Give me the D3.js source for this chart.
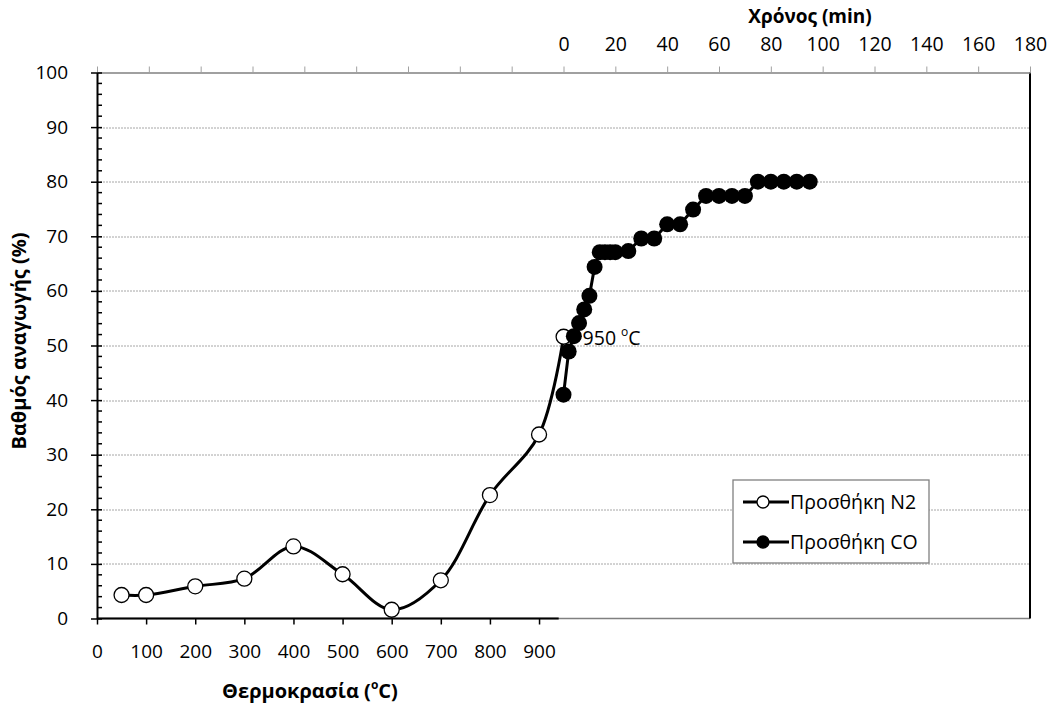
<!DOCTYPE html>
<html>
<head>
<meta charset="utf-8">
<script src="https://cdn.jsdelivr.net/npm/d3@7"></script>
<style>
  body { margin: 0; background: #fff; }
  text { font-family: "Open Sans", sans-serif; fill: #000; }
</style>
</head>
<body>
<div id="chart"></div>
<script>
// data
var tempN2 = [50, 100, 200, 300, 400, 500, 600, 700, 800, 900, 950];
var valN2 = [4.3, 4.3, 5.9, 7.3, 13.2, 8.1, 1.6, 7.0, 22.6, 33.7, 51.6];

var timeCO = [0, 2, 4, 6, 8, 10, 12, 14, 16, 18, 20, 25, 30, 35, 40, 45, 50, 55, 60, 65, 70, 75, 80, 85, 90, 95];
var valCO = [41.0, 48.9, 51.7, 54.1, 56.6, 59.1, 64.4, 67.1, 67.1, 67.1, 67.1, 67.3, 69.6, 69.6, 72.2, 72.2, 74.9, 77.4, 77.4, 77.4, 77.4, 80.0, 80.0, 80.0, 80.0, 80.0];

var tempTicks = [0, 100, 200, 300, 400, 500, 600, 700, 800, 900];
var timeTicks = d3.range(-180, 181, 20);
var yTicks = [0, 10, 20, 30, 40, 50, 60, 70, 80, 90, 100];

var svgWidth = 1052;
var svgHeight = 706;

var margin = { top: 72.5, right: 22, bottom: 87.5, left: 97 };
var width = svgWidth - margin.left - margin.right;
var height = svgHeight - margin.top - margin.bottom;

var svg = d3.select("#chart")
  .append("svg")
  .attr("width", svgWidth)
  .attr("height", svgHeight);

var g = svg.append("g")
  .attr("transform", `translate(${margin.left}, ${margin.top})`);

// scales
var yScale = d3.scaleLinear().domain([0, 100]).range([height, 0]);
var tempScale = d3.scaleLinear().domain([0, 950]).range([0, 466.6]);
var timeScale = d3.scaleLinear().domain([-180, 180]).range([0, width]);

// gridlines
g.selectAll(".grid")
  .data(yTicks.filter(d => d > 0 && d < 100))
  .enter()
  .append("line")
  .attr("x1", 0)
  .attr("x2", width)
  .attr("y1", d => Math.round(yScale(d)) + 0.5)
  .attr("y2", d => Math.round(yScale(d)) + 0.5)
  .attr("stroke", "#a6a6a6")
  .attr("stroke-dasharray", "2,1");

// bottom border (grey) and right border
g.append("line")
  .attr("x1", 0).attr("x2", width)
  .attr("y1", height).attr("y2", height)
  .attr("stroke", "#808080").attr("stroke-width", 1.5);
g.append("line")
  .attr("x1", width).attr("x2", width)
  .attr("y1", 0).attr("y2", height)
  .attr("stroke", "#000").attr("stroke-width", 2);

// top axis (time)
var topAxis = d3.axisTop(timeScale)
  .tickValues(timeTicks)
  .tickSize(6)
  .tickSizeOuter(0)
  .tickFormat(d => d >= 0 ? d : "");
var topG = g.append("g").call(topAxis);
topG.select(".domain").attr("stroke", "#808080").attr("stroke-width", 1.5);
topG.selectAll(".tick line").attr("stroke", "#a0a0a0");
topG.selectAll(".tick text")
  .attr("font-family", "Open Sans")
  .attr("font-size", 19.5)
  .attr("y", -22)
  .attr("dy", 0);

// bottom axis (temperature)
var bottomAxis = d3.axisBottom(tempScale)
  .tickValues(tempTicks)
  .tickSize(6)
  .tickSizeOuter(0);
var botG = g.append("g")
  .attr("transform", `translate(0, ${height})`)
  .call(bottomAxis);
botG.select(".domain")
  .attr("d", `M0,0H${tempScale(940)}`)
  .attr("stroke", "#000").attr("stroke-width", 2);
botG.selectAll(".tick line").attr("stroke", "#000").attr("stroke-width", 1.5);
botG.selectAll(".tick text")
  .attr("font-family", "Open Sans")
  .attr("font-size", 19)
  .attr("y", 39)
  .attr("dy", 0);

// left axis
var leftAxis = d3.axisLeft(yScale)
  .tickValues(yTicks)
  .tickSize(6)
  .tickSizeOuter(0);
var leftG = g.append("g").call(leftAxis);
leftG.select(".domain").attr("stroke", "#000").attr("stroke-width", 2);
leftG.selectAll(".tick line")
  .attr("x2", -6).attr("x1", 5)
  .attr("stroke", "#000").attr("stroke-width", 1.5);
leftG.selectAll(".tick text")
  .attr("font-family", "Open Sans")
  .attr("font-size", 19)
  .attr("x", -29);

// minor ticks every 2
g.selectAll(".minor")
  .data(d3.range(0, 101, 2).filter(d => d % 10 !== 0))
  .enter()
  .append("line")
  .attr("x1", 0).attr("x2", 5)
  .attr("y1", d => yScale(d)).attr("y2", d => yScale(d))
  .attr("stroke", "#000").attr("stroke-width", 1.5);

// N2 series, smoothed line
var n2 = tempN2.map((t, i) => [tempScale(t), yScale(valN2[i])]);
g.append("path")
  .attr("d", d3.line().curve(d3.curveCatmullRom.alpha(0.5))(n2))
  .attr("fill", "none")
  .attr("stroke", "#000")
  .attr("stroke-width", 3);
g.selectAll(".n2")
  .data(n2)
  .enter()
  .append("circle")
  .attr("cx", d => d[0])
  .attr("cy", d => d[1])
  .attr("r", 7.5)
  .attr("fill", "#fff")
  .attr("stroke", "#000")
  .attr("stroke-width", 1.3);

// CO series
var co = timeCO.map((t, i) => [timeScale(t), yScale(valCO[i])]);
g.append("path")
  .attr("d", d3.line()(co))
  .attr("fill", "none")
  .attr("stroke", "#000")
  .attr("stroke-width", 3);
g.selectAll(".co")
  .data(co)
  .enter()
  .append("circle")
  .attr("cx", d => d[0])
  .attr("cy", d => d[1])
  .attr("r", 8)
  .attr("fill", "#000");

// 950 °C label
var lab = g.append("text")
  .attr("x", tempScale(950) + 19)
  .attr("y", yScale(51.6) + 8)
  .attr("font-size", 19.5);
lab.append("tspan").text("950 ");
lab.append("tspan").attr("font-size", 12).attr("dy", -9).text("o");
lab.append("tspan").attr("dy", 9).text("C");

// axis titles
svg.append("text")
  .attr("transform", "translate(26, 341) rotate(-90)")
  .attr("text-anchor", "middle")
  .attr("font-weight", "bold")
  .attr("font-size", 20)
  .text("Βαθμός αναγωγής (%)");

var xt = svg.append("text")
  .attr("x", 310)
  .attr("y", 698)
  .attr("text-anchor", "middle")
  .attr("font-weight", "bold")
  .attr("font-size", 20);
xt.append("tspan").text("Θερμοκρασία (");
xt.append("tspan").attr("font-size", 12).attr("dy", -9).text("o");
xt.append("tspan").attr("dy", 9).text("C)");

svg.append("text")
  .attr("x", 810)
  .attr("y", 23)
  .attr("text-anchor", "middle")
  .attr("font-weight", "bold")
  .attr("font-size", 19)
  .text("Χρόνος (min)");

// legend
var leg = svg.append("g").attr("transform", "translate(733, 480)");
leg.append("rect")
  .attr("width", 196).attr("height", 83)
  .attr("fill", "#fff").attr("stroke", "#808080").attr("stroke-width", 1.3);
var legItems = [
  { name: "Προσθήκη N2", fill: "#fff", y: 22 },
  { name: "Προσθήκη CO", fill: "#000", y: 62 }
];
legItems.forEach(function(d) {
  leg.append("line")
    .attr("x1", 10).attr("x2", 56)
    .attr("y1", d.y).attr("y2", d.y)
    .attr("stroke", "#000").attr("stroke-width", 3);
  leg.append("circle")
    .attr("cx", 30).attr("cy", d.y).attr("r", 6)
    .attr("fill", d.fill).attr("stroke", "#000").attr("stroke-width", 1.3);
  leg.append("text")
    .attr("x", 57).attr("y", d.y + 7)
    .attr("font-size", 19.5)
    .text(d.name);
});
</script>
</body>
</html>
